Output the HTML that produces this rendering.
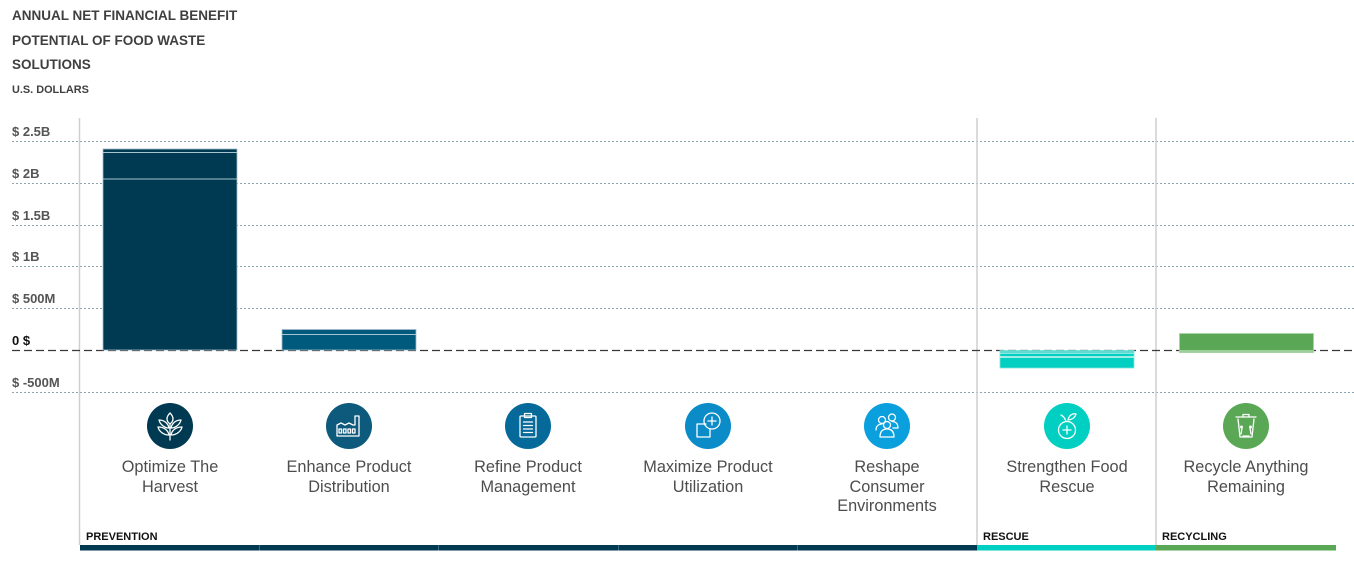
<!DOCTYPE html>
<html>
<head>
<meta charset="utf-8">
<style>
html,body{margin:0;padding:0;background:#fff;}
svg{display:block;}
</style>
</head>
<body>
<svg width="1354" height="561" viewBox="0 0 1354 561" xmlns="http://www.w3.org/2000/svg">
<rect width="1354" height="561" fill="#fff"/>
<!-- Title -->
<g font-family="Liberation Sans, sans-serif" font-weight="bold" fill="#3f3f3f">
<text x="12" y="20" font-size="13.5">ANNUAL NET FINANCIAL BENEFIT</text>
<text x="12" y="45" font-size="13.5">POTENTIAL OF FOOD WASTE</text>
<text x="12" y="69" font-size="13.5">SOLUTIONS</text>
<text x="12" y="93" font-size="10.9">U.S. DOLLARS</text>
</g>
<!-- gridlines -->
<g stroke="#8ca3b0" stroke-width="1" stroke-dasharray="2 2">
<line x1="12" y1="141.5" x2="1354" y2="141.5"/>
<line x1="12" y1="183.5" x2="1354" y2="183.5"/>
<line x1="12" y1="225.5" x2="1354" y2="225.5"/>
<line x1="12" y1="266.5" x2="1354" y2="266.5"/>
<line x1="12" y1="308.5" x2="1354" y2="308.5"/>
<line x1="12" y1="392.5" x2="1354" y2="392.5"/>
</g>
<!-- y labels -->
<g font-family="Liberation Sans, sans-serif" font-weight="bold" font-size="13" fill="#555">
<text x="12" y="136">$ 2.5B</text>
<text x="12" y="178">$ 2B</text>
<text x="12" y="220">$ 1.5B</text>
<text x="12" y="261">$ 1B</text>
<text x="12" y="303">$ 500M</text>
<text x="12" y="345" fill="#111">0 $</text>
<text x="12" y="387">$ -500M</text>
</g>
<!-- vertical separators -->
<g stroke="#cfcfcf" stroke-width="1.5">
<line x1="79.5" y1="118" x2="79.5" y2="545"/>
<line x1="977" y1="118" x2="977" y2="545"/>
<line x1="1156" y1="118" x2="1156" y2="545"/>
</g>
<!-- zero line -->
<line x1="12" y1="350.5" x2="1354" y2="350.5" stroke="#3a3a3a" stroke-width="1.2" stroke-dasharray="8 4"/>
<!-- bars -->
<rect x="103" y="149" width="134" height="201" fill="#003a52" stroke="#9fbccb" stroke-width="0.8"/>
<line x1="103" y1="152.5" x2="237" y2="152.5" stroke="#a9c4d0" stroke-width="1"/>
<line x1="103" y1="179" x2="237" y2="179" stroke="#a9c4d0" stroke-width="1"/>
<rect x="282" y="329.5" width="134" height="20.5" fill="#005a7d" stroke="#9fbccb" stroke-width="0.8"/>
<line x1="282" y1="334.5" x2="416" y2="334.5" stroke="#a9c4d0" stroke-width="1"/>
<rect x="1000" y="350.5" width="134" height="17.5" fill="#00cfc1" stroke="#80e6de" stroke-width="0.8"/>
<rect x="1000" y="350.5" width="134" height="2.5" fill="#5fdcd2"/>
<line x1="1000" y1="353.5" x2="1134" y2="353.5" stroke="#b8f0eb" stroke-width="0.8"/>
<line x1="1000" y1="357" x2="1134" y2="357" stroke="#ffffff" stroke-width="1.2"/>
<rect x="1179.5" y="333.5" width="134" height="19" fill="#5aa856" stroke="#a6d4a3" stroke-width="0.8"/>
<rect x="1179.5" y="350" width="134" height="2.8" fill="#9fd09b"/>

<!-- icons -->
<g>
<circle cx="170" cy="426" r="23" fill="#003a52"/>
<circle cx="349" cy="426" r="23" fill="#0d5a7c"/>
<circle cx="528" cy="426" r="23" fill="#05699a"/>
<circle cx="708" cy="426" r="23" fill="#0b8bc7"/>
<circle cx="887" cy="426" r="23" fill="#0a9fdd"/>
<circle cx="1067" cy="426" r="23" fill="#00cfc1"/>
<circle cx="1246" cy="426" r="23" fill="#5aa856"/>
</g>
<g fill="none" stroke="#fff" stroke-width="1.3" stroke-linecap="round" stroke-linejoin="round">
<!-- wheat -->
<path d="M170 413 C166 417 166 421 170 424 C174 421 174 417 170 413 Z"/>
<path d="M170 424 L170 440"/>
<path d="M169 428 C164 428 160 424 159 420 C164 420 168 423 169 428 Z"/>
<path d="M171 428 C176 428 180 424 181 420 C176 420 172 423 171 428 Z"/>
<path d="M169 435 C163 435 159 431 158 427 C164 427 168 430 169 435 Z"/>
<path d="M171 435 C177 435 181 431 182 427 C176 427 172 430 171 435 Z"/>
<!-- factory -->
<path d="M337 436 L337 425 L341 423 L345 425 L349 423 L353 425 L355 425 L355 416 L359 416 L359 436 Z"/>
<rect x="339" y="429" width="2.5" height="4"/><rect x="343.5" y="429" width="2.5" height="4"/><rect x="348" y="429" width="2.5" height="4"/><rect x="352.5" y="429" width="2.5" height="4"/>
<!-- clipboard -->
<rect x="520" y="416" width="16" height="21" rx="1"/>
<rect x="524.5" y="413.5" width="7" height="4"/>
<line x1="523.5" y1="422" x2="532.5" y2="422"/><line x1="523.5" y1="425.5" x2="532.5" y2="425.5"/><line x1="523.5" y1="429" x2="532.5" y2="429"/><line x1="523.5" y1="432.5" x2="532.5" y2="432.5"/>
<!-- maximize -->
<path d="M706 424 L697 424 L697 437 L710 437 L710 429"/>
<circle cx="712" cy="421" r="8"/>
<line x1="712" y1="417" x2="712" y2="425"/><line x1="708" y1="421" x2="716" y2="421"/>
<!-- people -->
<circle cx="882" cy="420" r="3.5"/><circle cx="892" cy="417.5" r="3.5"/><circle cx="887" cy="425" r="3.5"/>
<path d="M876 430 C876 425 880 424 882 424"/>
<path d="M892 421.5 C895 421.5 898 423 898 428 L893 428"/>
<path d="M880 437 C880 431 883 429 887 429 C891 429 894 431 894 437 Z"/>
<!-- apple -->
<circle cx="1067" cy="430" r="8.5"/>
<line x1="1067" y1="426" x2="1067" y2="434"/><line x1="1063" y1="430" x2="1071" y2="430"/>
<path d="M1066 421.5 C1065 418 1063 416 1061 415"/>
<path d="M1068 420 C1069 415 1073 413 1076 414 C1075 418 1071 420 1068 420 Z"/>
<!-- bin -->
<line x1="1236" y1="417" x2="1256" y2="417"/>
<path d="M1243 417 L1243 414.5 L1249 414.5 L1249 417"/>
<path d="M1238 419 L1240 437 L1252 437 L1254 419"/>
<path d="M1242 428 L1241 434 M1250 428 L1251 434 M1243 436 L1249 436"/>
<circle cx="1241.5" cy="427" r="0.8" fill="#fff"/><circle cx="1250.5" cy="427" r="0.8" fill="#fff"/>
</g>
<!-- labels -->
<g font-family="Liberation Sans, sans-serif" font-size="16.3" fill="#4d4d4d" text-anchor="middle">
<text x="170" y="472">Optimize The</text>
<text x="170" y="492">Harvest</text>
<text x="349" y="472">Enhance Product</text>
<text x="349" y="492">Distribution</text>
<text x="528" y="472">Refine Product</text>
<text x="528" y="492">Management</text>
<text x="708" y="472">Maximize Product</text>
<text x="708" y="492">Utilization</text>
<text x="887" y="472">Reshape</text>
<text x="887" y="492">Consumer</text>
<text x="887" y="511">Environments</text>
<text x="1067" y="472">Strengthen Food</text>
<text x="1067" y="492">Rescue</text>
<text x="1246" y="472">Recycle Anything</text>
<text x="1246" y="492">Remaining</text>
</g>
<!-- category labels -->
<g font-family="Liberation Sans, sans-serif" font-weight="bold" font-size="11" fill="#111">
<text x="86" y="540">PREVENTION</text>
<text x="983" y="540">RESCUE</text>
<text x="1162" y="540">RECYCLING</text>
</g>
<!-- bottom bar -->
<rect x="80" y="545" width="897" height="5.5" fill="#003a52"/>
<g stroke="#3d6a80" stroke-width="1">
<line x1="259.5" y1="545" x2="259.5" y2="550.5"/>
<line x1="438.5" y1="545" x2="438.5" y2="550.5"/>
<line x1="618.5" y1="545" x2="618.5" y2="550.5"/>
<line x1="797.5" y1="545" x2="797.5" y2="550.5"/>
</g>
<rect x="977" y="545" width="179" height="5.5" fill="#00cfc1"/>
<rect x="1156" y="545" width="180" height="5.5" fill="#5aa856"/>
</svg>
</body>
</html>
